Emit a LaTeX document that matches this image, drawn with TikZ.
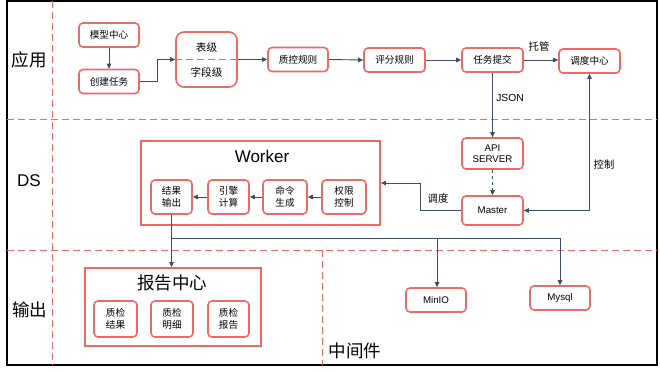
\documentclass[tikz,border=0pt]{standalone}
\usepackage{fontspec}
\setmainfont{Liberation Sans}
\newfontfamily\cjk{Noto Sans CJK SC}
\usetikzlibrary{arrows.meta}
\definecolor{redc}{HTML}{EA6B66}
\definecolor{linec}{HTML}{3A4E66}
\begin{document}
\begin{tikzpicture}[x=1pt,y=-1pt,
  box/.style={draw=redc, line width=1.6pt, rounded corners=4pt, fill=white, inner sep=0pt, align=center,
    minimum width=60pt, minimum height=24pt, font=\cjk\fontsize{9.6}{12}\selectfont},
  lbox/.style={box, font=\fontsize{9.7}{12}\selectfont},
  bigbox/.style={draw=redc, line width=1.8pt, fill=white, inner sep=0pt},
  arr/.style={draw=linec, line width=0.9pt, -{Triangle[length=5pt,width=4.5pt]}},
  ln/.style={draw=linec, line width=0.9pt},
  sep/.style={draw=redc, line width=0.9pt, dash pattern=on 7pt off 4pt},
  lab/.style={font=\cjk\fontsize{10.3}{12}\selectfont, inner sep=0pt},
  big/.style={font=\cjk\fontsize{17.5}{20}\selectfont, inner sep=0pt},
]
\useasboundingbox (0,0) rectangle (660,372);
\fill[white] (0,0) rectangle (660,372);
% frame and separators
\draw[line width=1.1pt] (7,1) rectangle (657,365);
\draw[sep] (52,1) -- (52,365);
\draw[sep] (7,119) -- (657,119);
\draw[sep] (7,250) -- (657,250);
\draw[sep] (322,250) -- (322,365);
% lane labels
\node[big] (l1) at (29,60) {应用};
\node[big, font=\fontsize{17}{20}\selectfont] (l2) at (29,181) {DS};
\node[big] (l3) at (30,310) {输出};
\node[big] (l4) at (355,351) {中间件};
% application row
\node[box] (mx) at (109,35) {模型中心};
\node[box] (cj) at (109,81.5) {创建任务};
\node[box, minimum width=61pt, minimum height=55pt, rounded corners=8pt] (tb) at (206.5,59.5) {};
\draw[sep] (tb.west) -- (tb.east);
\node[lab, font=\cjk\fontsize{10.6}{12}\selectfont] (tb1) at (206.5,47) {表级};
\node[lab, font=\cjk\fontsize{10.6}{12}\selectfont] (tb2) at (206.5,72) {字段级};
\node[box] (zk) at (298,59.5) {质控规则};
\node[box, minimum width=61pt] (pf) at (394.5,60) {评分规则};
\node[box, minimum width=61pt] (rw) at (492.5,60) {任务提交};
\node[box, minimum width=61pt] (dd) at (589.5,61) {调度中心};
\draw[arr] (mx.south) -- (cj.north);
\draw[arr] (cj.east) -- ++(18,0) |- (tb.west);
\draw[arr] (tb.east) -- (zk.west);
\draw[arr] (zk.east) -- (pf.west);
\draw[arr] (pf.east) -- (rw.west);
\draw[arr] (rw.east) -- (dd.west |- rw.east);
\node[lab] (tg) at (539,47) {托管};
% DS row
\node[lbox, minimum width=61pt, minimum height=31pt] (api) at (492.5,153.5) {API\\[-1pt]SERVER};
\node[lbox, minimum width=61pt, minimum height=29pt] (ms) at (492.5,210.5) {Master};
\draw[arr] (rw.south) -- (api.north);
\node[lab, font=\fontsize{10.3}{12}\selectfont] (js) at (510,98) {JSON};
\draw[arr, dashed] (api.south) -- (ms.north);
\draw[ln, {Triangle[length=5pt,width=4.5pt]}-{Triangle[length=5pt,width=4.5pt]}] (ms.east) -| (dd.south);
\node[lab] (kz) at (604,165) {控制};
\node[bigbox, minimum width=239pt, minimum height=84pt] (wk) at (260.5,183) {};
\node[inner sep=0pt, font=\fontsize{17}{20}\selectfont] (wkt) at (262,156) {Worker};
\node[box, minimum width=41pt, minimum height=34pt] (jg) at (171.5,197) {结果\\输出};
\node[box, minimum width=41pt, minimum height=34pt] (yq) at (228.5,197) {引擎\\计算};
\node[box, minimum width=44pt, minimum height=34pt] (ml) at (285,197) {命令\\生成};
\node[box, minimum width=44pt, minimum height=34pt] (qx) at (344,197) {权限\\控制};
\draw[arr] (qx.west) -- (ml.east);
\draw[arr] (ml.west) -- (yq.east);
\draw[arr] (yq.west) -- (jg.east);
\draw[arr] (ms.west) -- ++(-41,0) |- (wk.east);
\node[lab] (ddl) at (438,199) {调度};
% output row
\node[bigbox, minimum width=176pt, minimum height=78pt] (bg) at (173,307) {};
\node[big, font=\cjk\fontsize{17.5}{20}\selectfont] (bgt) at (172,283) {报告中心};
\node[box, minimum width=43pt, minimum height=36pt] (r1) at (115.5,319) {质检\\结果};
\node[box, minimum width=42pt, minimum height=36pt] (r2) at (172,319) {质检\\明细};
\node[box, minimum width=41pt, minimum height=36pt] (r3) at (228.5,319) {质检\\报告};
\node[lbox] (mi) at (436,300) {MinIO};
\node[lbox] (my) at (560,298) {Mysql};
\draw[arr] (jg.south) -- (jg.south |- bg.north);
\coordinate (br) at (172,238);
\draw[ln] (br) -- (437,238);
\draw[arr] (437,238) -- (mi.north -| 437,0);
\draw[arr] (437,238) -| (my.north);
\end{tikzpicture}
\end{document}
